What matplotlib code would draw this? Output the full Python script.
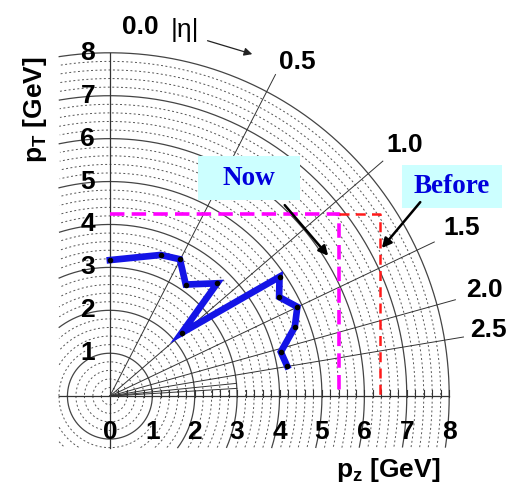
import numpy as np
import matplotlib
matplotlib.use("Agg")
import matplotlib.pyplot as plt
from matplotlib.patches import Rectangle, FancyArrowPatch

# ---- data ----
eta_labels = [0.5, 1.0, 1.5, 2.0, 2.5]
eta_extra = [3.0, 3.5]
pz_path = [0.0, 1.2, 1.65, 1.79, 2.53, 1.69, 4.0, 3.99, 4.42, 4.36, 4.03, 4.18]
pt_path = [3.17, 3.29, 3.19, 2.60, 2.63, 1.47, 2.78, 2.31, 2.08, 1.61, 1.03, 0.70]
now_pz, now_pt = 5.4, 4.24
before_pz, before_pt = 6.37, 4.24
ticks = [0, 1, 2, 3, 4, 5, 6, 7, 8]

plt.rcParams['font.family'] = ['Liberation Sans', 'DejaVu Sans']
fig = plt.figure(figsize=(5.09, 4.94), dpi=100)
ax = fig.add_axes([0, 0, 1, 1])
ax.set_xlim(-2.59, 9.41)
ax.set_ylim(-2.28, 9.23)
ax.axis('off')

# concentric arcs
t = np.linspace(-np.pi, np.pi, 1500)
for k in range(1, 41):
    r = k * 0.2
    x = r * np.cos(t)
    y = r * np.sin(t)
    m = (x < -1.2) | (y < -1.2)
    x = np.where(m, np.nan, x)
    y = np.where(m, np.nan, y)
    if k % 5 == 0:
        ax.plot(x, y, color='#444444', lw=0.9, zorder=1)
    else:
        ax.plot(x, y, color='#555555', lw=0.7, ls=(0, (2, 2.5)), zorder=1)

# axes lines
ax.plot([-1.2, 8.0], [0, 0], color='#333333', lw=0.9, zorder=2)
ax.plot([0, 0], [-1.2, 8.0], color='#333333', lw=0.9, zorder=2)
for k in range(1, 41):
    xx = k * 0.2
    ax.plot([xx, xx], [-0.03, 0.15], color='#333333', lw=0.8, zorder=2)

# eta rays
for e in eta_labels:
    th = 2 * np.arctan(np.exp(-e))
    ax.plot([0, 8.45 * np.cos(th)], [0, 8.45 * np.sin(th)], color='#333333', lw=0.7, zorder=2)
for e in eta_extra:
    th = 2 * np.arctan(np.exp(-e))
    ax.plot([0, 3.0 * np.cos(th)], [0, 3.0 * np.sin(th)], color='#333333', lw=0.7, zorder=2)

# dashed boxes
ax.plot([0, now_pz, now_pz], [now_pt, now_pt, 0], color='#ff00ff', lw=2.6,
        ls=(0, (4, 2)), zorder=4)
ax.plot([now_pz, before_pz, before_pz], [before_pt, before_pt, 0], color='#ff1a1a', lw=1.8,
        ls=(0, (4, 2.5)), zorder=4)

# blue path
ax.plot(pz_path, pt_path, color='#1414e6', lw=4.8, solid_joinstyle='miter', zorder=5)
ax.plot(pz_path, pt_path, 'o', color='black', ms=3, zorder=6)

# tick labels
for v in ticks:
    ax.text(v, -0.84, str(v), ha='center', va='center', fontsize=19, fontweight='bold', zorder=7)
    if v > 0:
        ax.text(-0.52, v, str(v), ha='center', va='center', fontsize=19, fontweight='bold', zorder=7)

# eta labels
eta_pos = [(4.41, 7.79), (6.96, 5.85), (8.30, 3.92), (8.82, 2.47), (8.92, 1.54)]
for e, (px, py) in zip(eta_labels, eta_pos):
    ax.text(px, py, f"{e:.1f}", ha='center', va='center', fontsize=19, fontweight='bold')
ax.text(0.71, 8.60, "0.0", ha='center', va='center', fontsize=19, fontweight='bold')
ax.text(1.77, 8.53, "|η|", ha='center', va='center', fontsize=19)
ax.add_patch(FancyArrowPatch((2.24, 8.30), (3.42, 7.95), arrowstyle='-|>', mutation_scale=12,
                             color='#222222', lw=0.9))

# axis titles
ax.text(-1.77, 6.67, r"p$_\mathregular{T}$ [GeV]", rotation=90, ha='center', va='center',
        fontsize=19, fontweight='bold')
ax.text(6.56, -1.72, r"p$_\mathregular{z}$ [GeV]", ha='center', va='center',
        fontsize=19, fontweight='bold')

# annotation boxes
ax.add_patch(Rectangle((2.08, 4.57), 2.40, 1.02, facecolor='#ccffff', edgecolor='none', zorder=8))
ax.text(3.28, 5.08, "Now", ha='center', va='center', fontsize=19.5, fontweight='bold',
        family=['Liberation Serif'], color='#0000dd', zorder=9)
ax.add_patch(Rectangle((6.89, 4.38), 2.36, 1.00, facecolor='#ccffff', edgecolor='none', zorder=8))
ax.text(8.07, 4.88, "Before", ha='center', va='center', fontsize=19.5, fontweight='bold',
        family=['Liberation Serif'], color='#0000dd', zorder=9)
ax.add_patch(FancyArrowPatch((4.08, 4.50), (5.19, 3.22), arrowstyle='-|>', mutation_scale=14,
                             color='black', lw=1.8, zorder=9))
ax.add_patch(FancyArrowPatch((7.36, 4.57), (6.37, 3.40), arrowstyle='-|>', mutation_scale=14,
                             color='black', lw=1.8, zorder=9))

fig.savefig("out.png", dpi=100)
